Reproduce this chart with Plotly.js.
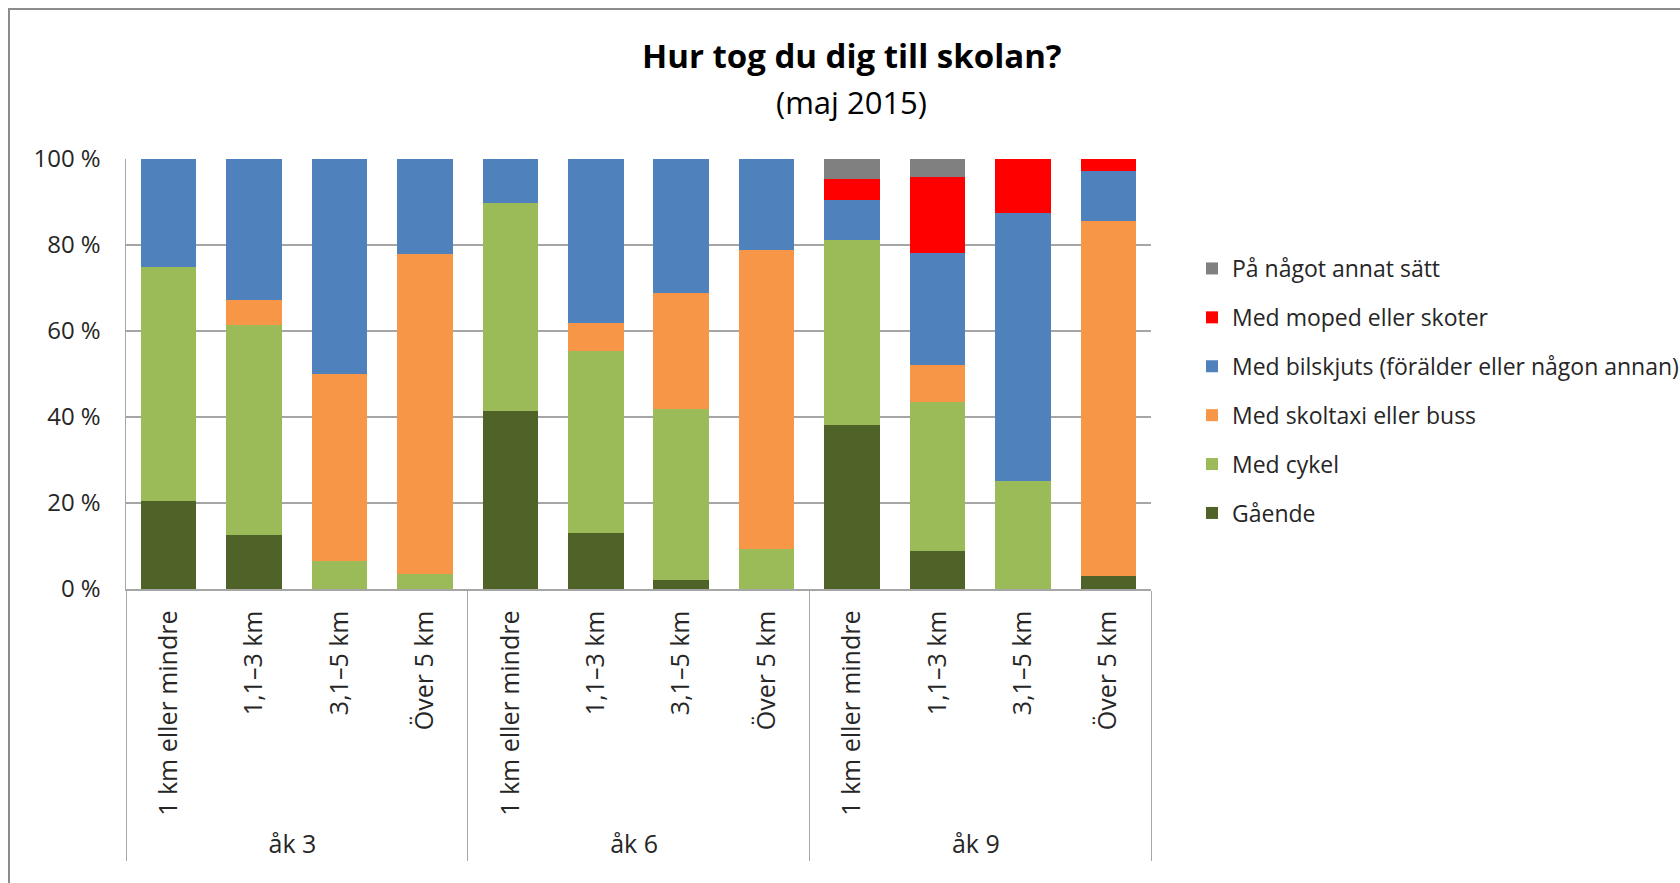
<!DOCTYPE html>
<html>
<head>
<meta charset="utf-8">
<script src="https://cdn.plot.ly/plotly-3.0.1.min.js"></script>
<style>
  html, body { margin: 0; padding: 0; background: #fff; }
  #chart { position: absolute; left: 0; top: 0; width: 1680px; height: 883px; }
  .frame-h { position: absolute; left: 8px; top: 8px; width: 1672px; height: 2px; background: #8c8c8c; }
  .frame-v { position: absolute; left: 8px; top: 8px; width: 2px; height: 875px; background: #8c8c8c; }
</style>
</head>
<body>
<div id="chart"></div>
<div class="frame-h"></div>
<div class="frame-v"></div>
<script>
// Grade groups and distance categories (multicategory x axis)
const grades = ['åk 3','åk 3','åk 3','åk 3','åk 6','åk 6','åk 6','åk 6','åk 9','åk 9','åk 9','åk 9'];
const distances = ['1 km eller mindre','1,1–3 km','3,1–5 km','Över 5 km',
                   '1 km eller mindre','1,1–3 km','3,1–5 km','Över 5 km',
                   '1 km eller mindre','1,1–3 km','3,1–5 km','Över 5 km'];

// Shares (%) per category
const gaende   = [20.5, 12.5, 0,    0,    41.5, 13.1, 2.1,  0,    38.2, 8.8,  0,    3.1];
const cykel    = [54.4, 48.9, 6.6,  3.6,  48.3, 42.3, 39.7, 9.2,  42.9, 34.6, 25.1, 0];
const taxi     = [0,    5.8,  43.5, 74.3, 0,    6.4,  27.1, 69.7, 0,    8.7,  0,    82.5];
const bil      = [25.1, 32.8, 49.9, 22.1, 10.2, 38.2, 31.1, 21.1, 9.4,  26.1, 62.4, 11.6];
const moped    = [0,    0,    0,    0,    0,    0,    0,    0,    4.9,  17.5, 12.5, 2.8];
const annat    = [0,    0,    0,    0,    0,    0,    0,    0,    4.6,  4.3,  0,    0];

const seriesNames = ['Gående','Med cykel','Med skoltaxi eller buss',
                     'Med bilskjuts (förälder eller någon annan)',
                     'Med moped eller skoter','På något annat sätt'];
const seriesValues = [gaende, cykel, taxi, bil, moped, annat];
const seriesColors = ['#4F6228','#9BBB59','#F79646','#4F81BD','#FF0000','#808080'];

const yTickVals = [0, 20, 40, 60, 80, 100];
const yTickText = ['0 %', '20 %', '40 %', '60 %', '80 %', '100 %'];

const FONT = '"Open Sans", "Noto Sans", sans-serif';

const traces = seriesNames.map((name, i) => ({
  type: 'bar',
  name: name,
  legendgroup: 'g' + i,
  legendrank: 100 - i,
  x: [grades, distances],
  y: seriesValues[i],
  marker: { color: seriesColors[i], line: { width: 0 } },
  hoverinfo: 'name+y'
}));

const layout = {
  width: 1680,
  height: 883,
  paper_bgcolor: '#ffffff',
  plot_bgcolor: '#ffffff',
  barmode: 'stack',
  bargap: 0.35,
  font: { family: FONT, color: '#404040', size: 24 },
  margin: { l: 126, r: 529, t: 159, b: 294, pad: 0 },
  title: {
    text: '<b>Hur tog du dig till skolan?</b>',
    font: { family: FONT, size: 33, color: '#000000' },
    x: 0.507, xref: 'container', xanchor: 'center',
    y: 1 - 56 / 883, yref: 'container', yanchor: 'middle'
  },
  annotations: [{
    text: '(maj 2015)',
    xref: 'paper', yref: 'paper',
    x: (851 - 126) / 1025, y: (589 - 102) / 430,
    xanchor: 'center', yanchor: 'middle',
    showarrow: false,
    font: { family: FONT, size: 31, color: '#000000' }
  }],
  xaxis: {
    type: 'multicategory',
    tickangle: -90,
    showline: true,
    linecolor: '#A6A6A6',
    linewidth: 1.5,
    showgrid: false,
    ticks: '',
    ticklabelstandoff: 10,
    showdividers: true,
    dividercolor: '#A6A6A6',
    dividerwidth: 1,
    automargin: false,
    tickfont: { family: FONT, size: 25, color: '#262626' }
  },
  yaxis: {
    range: [0, 100],
    tickmode: 'array',
    tickvals: yTickVals,
    ticktext: yTickText,
    showline: true,
    linecolor: '#A6A6A6',
    linewidth: 1.5,
    showgrid: true,
    gridcolor: '#A6A6A6',
    gridwidth: 1.5,
    zeroline: false,
    ticks: '',
    ticklabelstandoff: 19,
    automargin: false,
    tickfont: { family: FONT, size: 24, color: '#262626' }
  },
  showlegend: true,
  legend: {
    traceorder: 'grouped',
    tracegroupgap: 16,
    xref: 'container',
    yref: 'container',
    x: 1192 / 1680,
    xanchor: 'left',
    y: 1 - 247 / 883,
    yanchor: 'top',
    font: { family: FONT, size: 23, color: '#262626' },
    bgcolor: 'rgba(0,0,0,0)'
  }
};

Plotly.newPlot('chart', traces, layout, { displayModeBar: false, staticPlot: true });
</script>
</body>
</html>
